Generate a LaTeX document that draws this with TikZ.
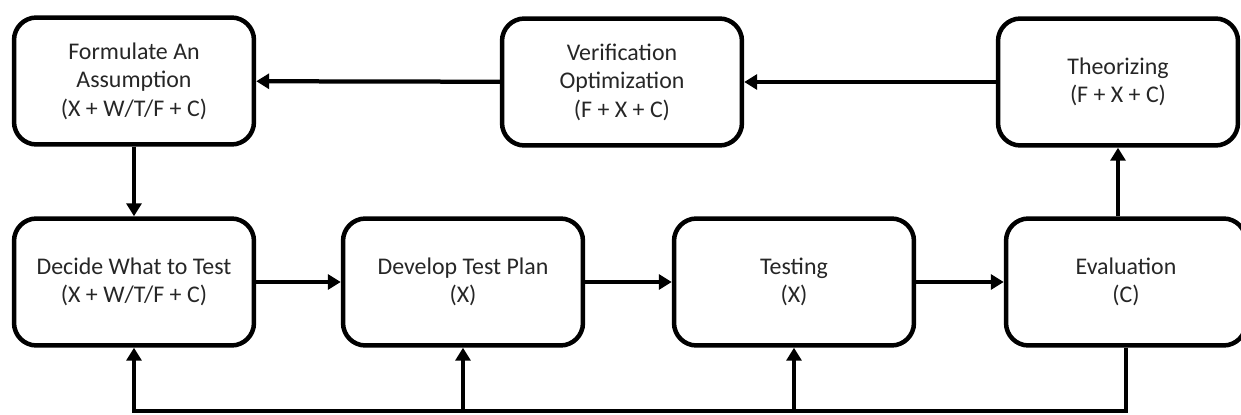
\documentclass[tikz,border=0pt]{standalone}
\usepackage{fontspec}
\setmainfont{Carlito}
\usetikzlibrary{arrows.meta}
\begin{document}
\begin{tikzpicture}[x=0.02cm,y=-0.02cm,
  stage/.style={draw,line width=0.09cm,rounded corners=0.45cm,minimum width=4.8cm,
    minimum height=2.54cm,align=center,font=\fontsize{13.6}{16.2}\selectfont,text=black!85},
  flow/.style={line width=0.085cm,-{Triangle[length=0.26cm,width=0.3cm]}}]
  \useasboundingbox (0,0) rectangle (1241,415);
  % upper row
  \node[stage] (assume) at (134,81) {Formulate An\\Assumption\\(X + W/T/F + C)};
  \node[stage] (verify) at (622,82) {Verification\\Optimization\\(F + X + C)};
  \node[stage] (theory) at (1118,82) {Theorizing\\(F + X + C)};
  % lower row
  \node[stage] (decide) at (134,282) {Decide What to Test\\(X + W/T/F + C)};
  \node[stage] (plan) at (463,282) {Develop Test Plan\\(X)};
  \node[stage] (test) at (794,282) {Testing\\(X)};
  \node[stage] (eval) at (1126,282) {Evaluation\\(C)};
  \coordinate (loop) at (134,411);
  \draw[flow] (theory) -- (verify);
  \draw[flow] (verify) -- (assume);
  \draw[flow] (assume) -- (decide);
  \draw[flow] (decide) -- (plan);
  \draw[flow] (plan) -- (test);
  \draw[flow] (test) -- (eval);
  \draw[flow] (eval.north -| theory) -- (theory.south);
  % feedback
  \draw[flow] (eval.south) |- (loop) -- (decide.south);
  \draw[flow] (plan.south |- loop) -- (plan.south);
  \draw[flow] (test.south |- loop) -- (test.south);
\end{tikzpicture}
\end{document}
